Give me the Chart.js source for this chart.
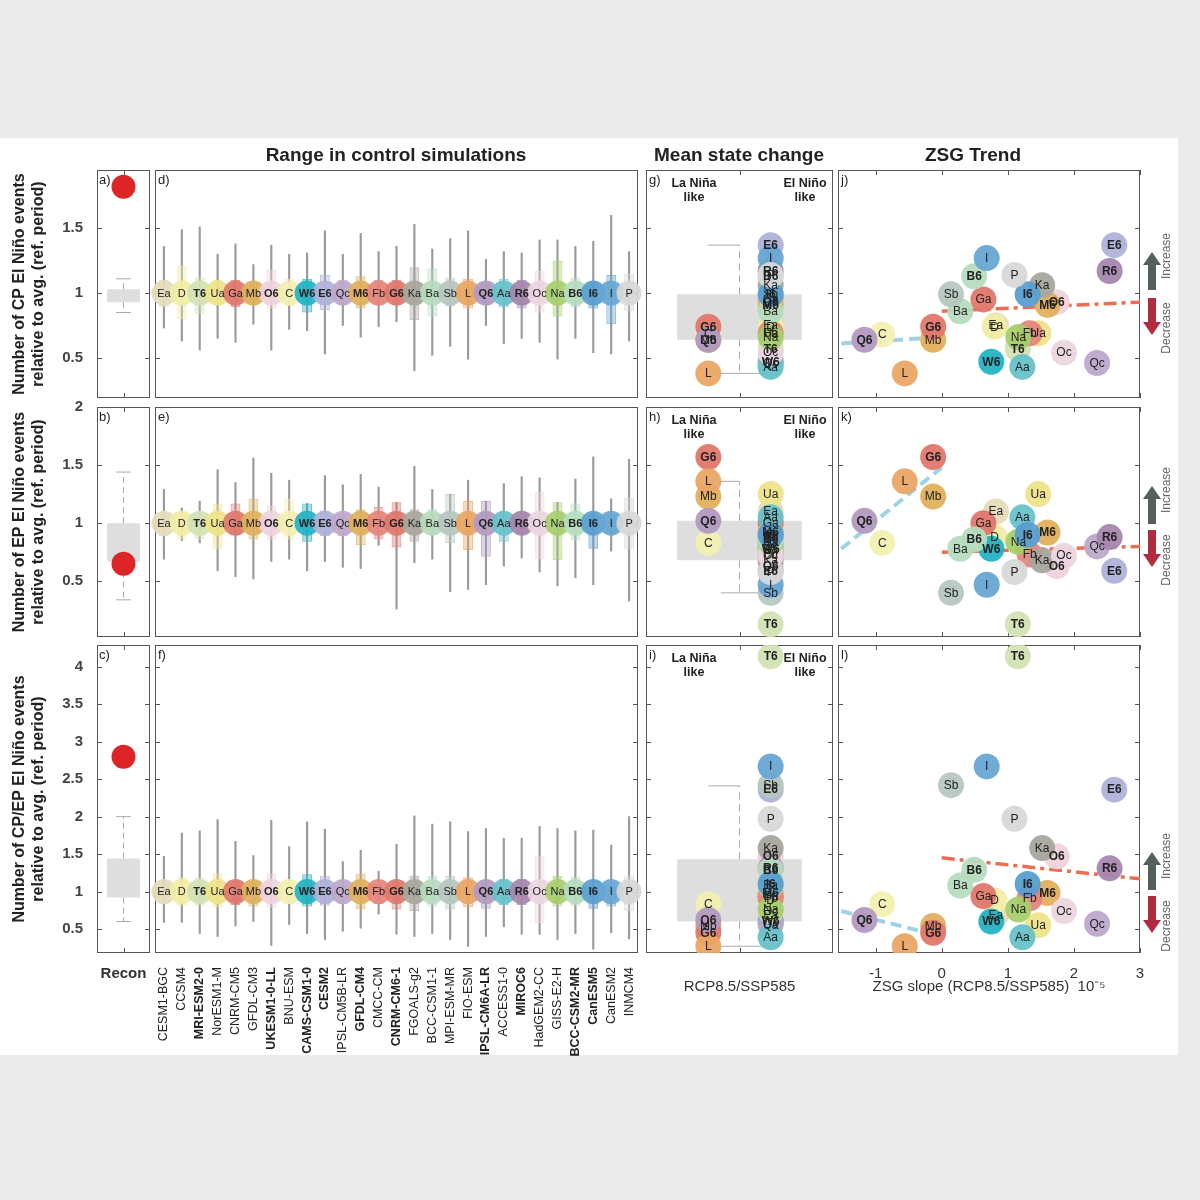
<!DOCTYPE html>
<html>
<head>
<meta charset="utf-8">
<title>CP / EP El Niño events</title>
<script src="https://cdn.jsdelivr.net/npm/chart.js@4.4.0/dist/chart.umd.min.js"></script>
<style>
  body { margin:0; background:#ebebeb; width:1200px; height:1200px; position:relative; font-family:"Liberation Sans", Arial, sans-serif; }
  #fig { position:absolute; left:0; top:138px; width:1178px; height:917px; background:#fff; }
  .box { position:absolute; }
  .t { position:absolute; color:#222; white-space:nowrap; }
  .c { transform:translateX(-50%); text-align:center; }
  .ttl { font-weight:bold; font-size:19px; top:144px; }
  .lab { font-size:13px; }
  .nl { font-weight:bold; font-size:12.5px; line-height:14px; }
  .rot { position:absolute; transform:translate(-50%,-50%) rotate(-90deg); font-size:12px; color:#666; white-space:nowrap; }
</style>
</head>
<body>
<div id="fig"></div>
<script>
// model codes, full names and colours
const codes = ['Ea','D','T6','Ua','Ga','Mb','O6','C','W6','E6','Qc','M6','Fb','G6','Ka','Ba','Sb','L','Q6','Aa','R6','Oc','Na','B6','I6','I','P'];
const names = ['CESM1-BGC','CCSM4','MRI-ESM2-0','NorESM1-M','CNRM-CM5','GFDL-CM3','UKESM1-0-LL','BNU-ESM','CAMS-CSM1-0','CESM2','IPSL-CM5B-LR','GFDL-CM4','CMCC-CM','CNRM-CM6-1','FGOALS-g2','BCC-CSM1-1','MPI-ESM-MR','FIO-ESM','IPSL-CM6A-LR','ACCESS1-0','MIROC6','HadGEM2-CC','GISS-E2-H','BCC-CSM2-MR','CanESM5','CanESM2','INMCM4'];
const colors = ['#e6dcbc','#f1eea6','#d3e3b4','#efe38a','#e0776c','#e0b05c','#f0d2dc','#f2f0b2','#22b3c4','#aeb2d8','#bea8cc','#e0b05c','#e6867c','#e0776c','#a8a69e','#b6dcbe','#b6c8c0','#eaa664','#b29ac0','#68c2ca','#a686ae','#ecd6e0','#a6cf6c','#b6dcbe','#589ed0','#68a6d4','#d8d8d8'];

// control simulations: boxes and whiskers (rows: CP, EP, CP/EP)
const cpBoxLo = [0.89,0.80,0.84,0.91,0.89,0.92,0.88,0.90,0.85,0.87,0.91,0.88,0.91,0.91,0.79,0.82,0.90,0.88,0.92,0.89,0.88,0.85,0.82,0.89,0.88,0.76,0.86];
const cpBoxHi = [1.10,1.21,1.12,1.10,1.10,1.08,1.18,1.11,1.11,1.14,1.10,1.13,1.10,1.10,1.20,1.19,1.12,1.11,1.08,1.11,1.10,1.17,1.25,1.12,1.09,1.14,1.15];
const cpWhLo = [0.73,0.63,0.56,0.65,0.62,0.76,0.56,0.72,0.71,0.53,0.75,0.66,0.74,0.78,0.40,0.52,0.59,0.49,0.75,0.61,0.65,0.62,0.49,0.65,0.54,0.53,0.63];
const cpWhHi = [1.36,1.49,1.51,1.30,1.38,1.22,1.37,1.30,1.31,1.48,1.30,1.46,1.32,1.36,1.53,1.34,1.42,1.48,1.26,1.32,1.31,1.41,1.41,1.36,1.40,1.60,1.32];
const epBoxLo = [0.89,0.86,0.86,0.78,0.90,0.86,0.86,0.86,0.84,0.89,0.89,0.81,0.86,0.79,0.84,0.90,0.83,0.77,0.71,0.84,0.90,0.69,0.68,0.85,0.78,0.91,0.78];
const epBoxHi = [1.09,1.07,1.07,1.17,1.17,1.21,1.15,1.21,1.17,1.11,1.08,1.12,1.14,1.18,1.12,1.12,1.25,1.19,1.19,1.10,1.10,1.27,1.18,1.17,1.07,1.07,1.22];
const epWhLo = [0.69,0.85,0.83,0.59,0.54,0.52,0.67,0.69,0.59,0.67,0.62,0.61,0.81,0.26,0.66,0.69,0.41,0.43,0.47,0.63,0.70,0.58,0.46,0.53,0.47,0.76,0.33];
const epWhHi = [1.29,1.13,1.19,1.46,1.35,1.56,1.43,1.37,1.17,1.41,1.33,1.42,1.31,1.18,1.49,1.29,1.25,1.37,1.19,1.34,1.40,1.39,1.18,1.38,1.57,1.21,1.55];
const rtBoxLo = [0.84,0.81,0.81,0.79,0.82,0.80,0.79,0.83,0.80,0.81,0.83,0.76,0.83,0.76,0.74,0.80,0.76,0.79,0.77,0.82,0.82,0.58,0.80,0.81,0.77,0.80,0.74];
const rtBoxHi = [1.06,1.19,1.19,1.24,1.14,1.12,1.24,1.10,1.23,1.21,1.08,1.24,1.10,1.10,1.21,1.21,1.21,1.19,1.08,1.17,1.17,1.47,1.21,1.20,1.08,1.08,1.21];
const rtWhLo = [0.59,0.59,0.44,0.40,0.54,0.60,0.28,0.56,0.44,0.36,0.47,0.51,0.70,0.43,0.40,0.44,0.36,0.27,0.40,0.53,0.43,0.43,0.36,0.44,0.23,0.45,0.37];
const rtWhHi = [1.47,1.78,1.81,1.96,1.67,1.48,1.95,1.60,1.93,1.83,1.40,1.55,1.27,1.63,2.01,1.90,1.93,1.80,1.84,1.71,1.71,1.87,1.84,1.81,1.82,1.62,2.00];

// projected change (RCP8.5/SSP585) per model and ZSG slope (1e-5)
const zsgSlope = [0.82,0.80,1.15,1.46,0.63,-0.13,1.74,-0.90,0.75,2.61,2.35,1.60,1.33,-0.13,1.52,0.28,0.14,-0.56,-1.17,1.22,2.54,1.85,1.16,0.49,1.30,0.68,1.10];
const cpChange = [0.75,0.74,0.57,0.69,0.95,0.64,0.93,0.68,0.47,1.37,0.46,0.91,0.69,0.74,1.06,0.86,0.99,0.38,0.64,0.43,1.17,0.54,0.66,1.13,0.99,1.27,1.14];
const epChange = [1.10,0.88,0.13,1.25,1.00,1.23,0.63,0.83,0.78,0.59,0.80,0.92,0.73,1.57,0.68,0.78,0.40,1.36,1.02,1.05,0.88,0.72,0.84,0.86,0.90,0.47,0.58];
const rtChange = [0.69,0.88,4.14,0.55,0.94,0.54,1.47,0.83,0.60,2.36,0.57,0.98,0.91,0.45,1.58,1.08,2.42,0.27,0.62,0.39,1.31,0.74,0.76,1.29,1.10,2.67,1.97];

// ensemble box of mean-state change [lo, hi] and whiskers
const ensBox = [[0.64,0.99],[0.68,1.02],[0.60,1.43]];
const ensWhisker = [[0.38,1.37],[0.40,1.36],[0.27,2.41]];

// reconstruction
const reconValue = [1.82,0.65,2.80];
const reconBox = [[0.93,1.03],[0.67,1.00],[0.92,1.44]];
const reconWhisker = [[0.85,1.11],[0.34,1.44],[0.60,2.00]];

// ZSG trend fits: La Niña-like (negative slope) and El Niño-like
const trendNeg = [[[-1.52,0.61],[-0.33,0.65]],[[-1.52,0.78],[0,1.48]],[[-1.52,0.74],[-0.35,0.48]]];
const trendPos = [[[0,0.86],[3.0,0.93]],[[0,0.75],[3.0,0.80]],[[0,1.45],[3.0,1.17]]];

const yTitles = [['Number of CP El Niño events','relative to avg. (ref. period)'],
                 ['Number of EP El Niño events','relative to avg. (ref. period)'],
                 ['Number of CP/EP El Niño events','relative to avg. (ref. period)']];
const yTickVals = [[0.5,1,1.5],[0.5,1,1.5,2],[0.5,1,1.5,2,2.5,3,3.5,4]];
const zsgTicks = [-1,0,1,2,3];

const FONT = '"Liberation Sans", Arial, sans-serif';
const rows = [{top:170,bot:398,min:0.19,max:1.95},{top:407,bot:637,min:0.02,max:2.0},{top:645,bot:953,min:0.18,max:4.29}];
const P = 15;

function rgba(hex, a) {
  const n = parseInt(hex.slice(1), 16);
  return `rgba(${n>>16},${(n>>8)&255},${n&255},${a})`;
}

// axes box with inward ticks, drawn under the marks
Chart.register({
  id: 'frame',
  beforeDatasetsDraw(chart, args, opts) {
    if (!opts.on) return;
    const {ctx, chartArea:a, scales} = chart;
    ctx.save();
    ctx.strokeStyle = '#555'; ctx.lineWidth = 1;
    ctx.strokeRect(a.left+0.5, a.top+0.5, a.width-1, a.height-1);
    ctx.beginPath();
    (opts.yTicks||[]).forEach(v => {
      const y = Math.round(scales.y.getPixelForValue(v))+0.5;
      ctx.moveTo(a.left, y); ctx.lineTo(a.left+5, y);
      ctx.moveTo(a.right-5, y); ctx.lineTo(a.right, y);
    });
    (opts.xTicks||[]).forEach(v => {
      const x = Math.round(scales.x.getPixelForValue(v))+0.5;
      ctx.moveTo(x, a.top); ctx.lineTo(x, a.top+5);
      ctx.moveTo(x, a.bottom-5); ctx.lineTo(x, a.bottom);
    });
    ctx.stroke();
    ctx.restore();
  }
});
Chart.register({
  id: 'circleLabels',
  afterDatasetsDraw(chart, args, opts) {
    if (!opts.labels) return;
    const {ctx, chartArea:a} = chart;
    const meta = chart.getDatasetMeta(opts.ds);
    ctx.save();
    ctx.beginPath(); ctx.rect(a.left, a.top, a.width, a.height); ctx.clip();
    ctx.textAlign = 'center'; ctx.textBaseline = 'middle'; ctx.fillStyle = '#222';
    meta.data.forEach((pt, i) => {
      const lab = opts.labels[i];
      ctx.font = (lab.endsWith('6') ? 'bold ' : '') + opts.size + 'px ' + FONT;
      ctx.fillText(lab, pt.x, pt.y + 0.5);
    });
    ctx.restore();
  }
});

function addCanvas(left, top, w, h) {
  const d = document.createElement('div');
  d.className = 'box';
  d.style.cssText = `left:${left}px;top:${top}px;width:${w}px;height:${h}px`;
  const c = document.createElement('canvas');
  d.appendChild(c);
  document.body.appendChild(d);
  return c;
}
const basePlugins = { legend:{display:false}, tooltip:{enabled:false} };
const base = { responsive:true, maintainAspectRatio:false, animation:false };

const boxLo = [cpBoxLo, epBoxLo, rtBoxLo], boxHi = [cpBoxHi, epBoxHi, rtBoxHi];
const whLo = [cpWhLo, epWhLo, rtWhLo], whHi = [cpWhHi, epWhHi, rtWhHi];
const change = [cpChange, epChange, rtChange];

rows.forEach((row, r) => {
  const last = r === 2;
  const h = row.bot - row.top;
  const xh = v => (s => { s.height = last ? v : 0; });

  // --- a/b/c: reconstruction
  {
    const c = addCanvas(0, row.top - P, 150 + P, h + P + (last ? 30 : P));
    const [bl, bh] = reconBox[r], [wl, wh] = reconWhisker[r];
    new Chart(c, {
      type: 'scatter',
      data: { datasets: [
        { type:'line', data:[{x:0.38,y:bl},{x:1.62,y:bl},{x:1.62,y:bh},{x:0.38,y:bh},{x:0.38,y:bl}], fill:'shape', backgroundColor:'#dedede', borderWidth:0, pointRadius:0, order:5 },
        { type:'line', data:[{x:1,y:bh},{x:1,y:wh},{x:1,y:null},{x:1,y:bl},{x:1,y:wl}], borderColor:'#aaa', borderWidth:1, borderDash:[6,4], pointRadius:0, spanGaps:false, order:4 },
        { type:'line', data:[{x:0.72,y:wh},{x:1.28,y:wh},{x:1,y:null},{x:0.72,y:wl},{x:1.28,y:wl}], borderColor:'#aaa', borderWidth:1, pointRadius:0, spanGaps:false, order:3 },
        { data:[{x:1,y:reconValue[r]}], pointRadius:12, pointBackgroundColor:'#dd2426', pointBorderWidth:0, order:0 }
      ]},
      options: {
        ...base,
        layout:{padding:{left:0,right:P,top:P,bottom: last ? 0 : P}},
        plugins:{...basePlugins, frame:{on:true, yTicks:yTickVals[r], xTicks:[1]}},
        scales:{
          x:{min:0,max:2, display:last, grid:{display:false}, border:{display:false},
             afterBuildTicks:s=>{s.ticks=[{value:1}];}, afterFit:xh(30),
             ticks:{callback:()=> 'Recon', font:{family:FONT,size:15,weight:'bold'}, color:'#333', padding:4}},
          y:{min:row.min,max:row.max, grid:{display:false}, border:{display:false},
             afterBuildTicks:s=>{s.ticks=yTickVals[r].map(v=>({value:v}));}, afterFit:s=>{s.width=97;},
             ticks:{callback:v=>String(v), font:{family:FONT,size:15,weight:'bold'}, color:'#444', padding:6},
             title:{display:true, text:yTitles[r], font:{family:FONT,size:16,weight:'bold'}, color:'#222', padding:{top:10,bottom:0}}}
        }
      }
    });
  }

  // --- d/e/f: control simulations
  {
    const c = addCanvas(155 - P, row.top - P, 638 - 155 + 2*P, h + P + (last ? 105 : P));
    new Chart(c, {
      type: 'bar',
      data: { labels: names, datasets: [
        { type:'line', data:codes.map(()=>1), showLine:false, pointRadius:12.5, pointBorderWidth:0,
          pointBackgroundColor:colors.map(cl=>rgba(cl,0.92)), order:0 },
        { data:boxLo[r].map((v,i)=>[v,boxHi[r][i]]), backgroundColor:colors.map(cl=>rgba(cl,0.4)),
          borderColor:colors.map(cl=>rgba(cl,0.75)), borderWidth:1, borderSkipped:false, grouped:false,
          barPercentage:1, categoryPercentage:0.55, order:1 },
        { data:whLo[r].map((v,i)=>[v,whHi[r][i]]), backgroundColor:'rgba(120,120,120,0.75)', barThickness:1.5, grouped:false, order:2 }
      ]},
      options: {
        ...base,
        layout:{padding:{left:P,right:P,top:P,bottom: last ? 0 : P}},
        plugins:{...basePlugins, frame:{on:true, yTicks:yTickVals[r]}, circleLabels:{ds:0, labels:codes, size:11}},
        scales:{
          x:{display:last, offset:true, grid:{display:false}, border:{display:false}, afterFit:xh(105),
             ticks:{autoSkip:false, maxRotation:90, minRotation:90, padding:6, color:'#222',
                    font:ctx=>({family:FONT, size:12.5, weight: codes[ctx.index] && codes[ctx.index].endsWith('6') ? 'bold' : 'normal'})}},
          y:{display:false, min:row.min, max:row.max}
        }
      }
    });
  }

  // --- g/h/i: mean state change
  {
    const c = addCanvas(646 - P, row.top - P, 833 - 646 + 2*P, h + P + (last ? 45 : P));
    const [bl, bh] = ensBox[r], [wl, wh] = ensWhisker[r];
    new Chart(c, {
      type: 'scatter',
      data: { datasets: [
        { data:codes.map((cd,i)=>({x: zsgSlope[i] < 0 ? 1 : 2, y: change[r][i]})), pointRadius:13, pointBorderWidth:0,
          pointBackgroundColor:colors.map(cl=>rgba(cl,0.95)), order:0 },
        { type:'line', data:[{x:0.5,y:bl},{x:2.5,y:bl},{x:2.5,y:bh},{x:0.5,y:bh},{x:0.5,y:bl}], fill:'shape', backgroundColor:'rgba(200,200,200,0.6)', borderWidth:0, pointRadius:0, order:5 },
        { type:'line', data:[{x:1.5,y:bh},{x:1.5,y:wh},{x:1.5,y:null},{x:1.5,y:bl},{x:1.5,y:wl}], borderColor:'#aaa', borderWidth:1, borderDash:[7,5], pointRadius:0, spanGaps:false, order:4 },
        { type:'line', data:[{x:1,y:wh},{x:1.5,y:wh},{x:1.5,y:null},{x:1.2,y:wl},{x:2,y:wl}], borderColor:'#aaa', borderWidth:1, pointRadius:0, spanGaps:false, order:3 }
      ]},
      options: {
        ...base,
        layout:{padding:{left:P,right:P,top:P,bottom: last ? 0 : P}},
        plugins:{...basePlugins, frame:{on:true, yTicks:yTickVals[r], xTicks:[1.5]}, circleLabels:{ds:0, labels:codes, size:12}},
        scales:{
          x:{min:0, max:3, display:last, grid:{display:false}, border:{display:false}, ticks:{display:false}, afterFit:xh(45),
             title:{display:true, text:'RCP8.5/SSP585', font:{family:FONT,size:15}, color:'#333', padding:{top:0,bottom:2}}},
          y:{display:false, min:row.min, max:row.max}
        }
      }
    });
  }

  // --- j/k/l: ZSG trend
  {
    const c = addCanvas(838 - P, row.top - P, 1140 - 838 + 2*P, h + P + (last ? 45 : P));
    new Chart(c, {
      type: 'scatter',
      data: { datasets: [
        { data:codes.map((cd,i)=>({x:zsgSlope[i], y:change[r][i]})), pointRadius:13, pointBorderWidth:0,
          pointBackgroundColor:colors.map(cl=>rgba(cl,0.95)), order:0 },
        { type:'line', data:trendNeg[r].map(p=>({x:p[0],y:p[1]})), borderColor:'#9fd2e4', borderWidth:4, borderDash:[11,6], pointRadius:0, order:2 },
        { type:'line', data:trendPos[r].map(p=>({x:p[0],y:p[1]})), borderColor:'#ec6d52', borderWidth:3.5, borderDash:[13,5,4,5], pointRadius:0, order:2 }
      ]},
      options: {
        ...base,
        layout:{padding:{left:P,right:P,top:P,bottom: last ? 0 : P}},
        plugins:{...basePlugins, frame:{on:true, yTicks:yTickVals[r], xTicks:zsgTicks}, circleLabels:{ds:0, labels:codes, size:12}},
        scales:{
          x:{min:-1.57, max:3.0, display:last, grid:{display:false}, border:{display:false},
             afterBuildTicks:s=>{s.ticks=zsgTicks.map(v=>({value:v}));}, afterFit:xh(45),
             ticks:{font:{family:FONT,size:15}, color:'#333', padding:4},
             title:{display:true, text:'ZSG slope (RCP8.5/SSP585)  10\u207B\u2075', font:{family:FONT,size:15}, color:'#333', padding:{top:0,bottom:2}}},
          y:{display:false, min:row.min, max:row.max}
        }
      }
    });
  }
});

// titles, panel letters, annotations
const html = [];
html.push('<div class="t c ttl" style="left:396px">Range in control simulations</div>');
html.push('<div class="t c ttl" style="left:739px">Mean state change</div>');
html.push('<div class="t c ttl" style="left:973px">ZSG Trend</div>');
const letters = [['a)','d)','g)','j)'],['b)','e)','h)','k)'],['c)','f)','i)','l)']];
const lx = [99, 158, 649, 841];
rows.forEach((row, r) => {
  letters[r].forEach((l, k) => html.push(`<div class="t lab" style="left:${lx[k]}px;top:${row.top+2}px">${l}</div>`));
  html.push(`<div class="t c nl" style="left:694px;top:${row.top+6}px">La Niña<br>like</div>`);
  html.push(`<div class="t c nl" style="left:805px;top:${row.top+6}px">El Niño<br>like</div>`);
});
const arrowY = [[252,298],[486,530],[852,896]];
arrowY.forEach(([u, d]) => {
  html.push(`<svg style="position:absolute;left:1142px;top:${u}px" width="20" height="40"><polygon points="10,0 19,13 14,13 14,38 6,38 6,13 1,13" fill="#55605c"/></svg>`);
  html.push(`<svg style="position:absolute;left:1142px;top:${d}px" width="20" height="38"><polygon points="6,0 14,0 14,24 19,24 10,37 1,24 6,24" fill="#b02a40"/></svg>`);
  html.push(`<div class="rot" style="left:1166px;top:${u+4}px">Increase</div>`);
  html.push(`<div class="rot" style="left:1166px;top:${d+30}px">Decrease</div>`);
});
document.body.insertAdjacentHTML('beforeend', html.join(''));
</script>
</body>
</html>
